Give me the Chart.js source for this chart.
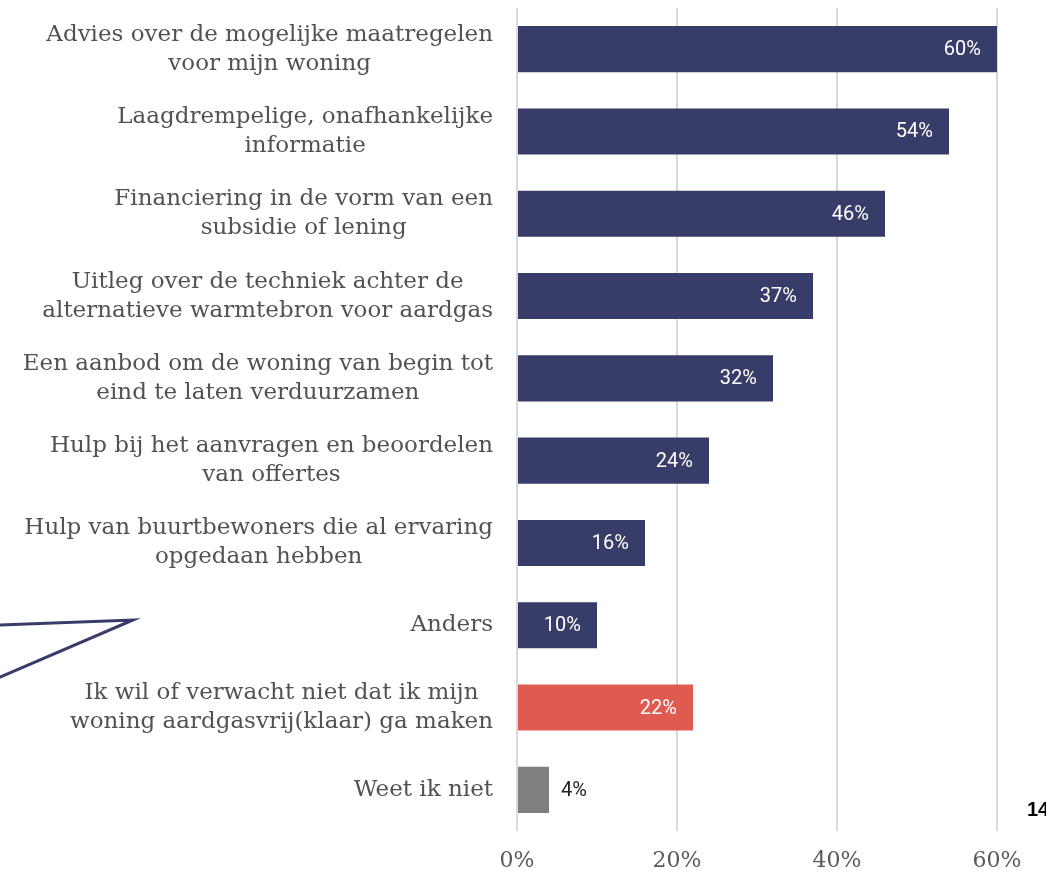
<!DOCTYPE html>
<html>
<head>
<meta charset="utf-8">
<script src="https://cdn.jsdelivr.net/npm/chart.js@4.4.0/dist/chart.umd.min.js"></script>
<style>
html,body{margin:0;padding:0;background:#fff;}
#wrap{width:1046px;height:873px;position:relative;overflow:hidden;}
</style>
</head>
<body>
<div id="wrap"><canvas id="c" width="1046" height="873"></canvas></div>
<script>
const categories = [
  ["Advies over de mogelijke maatregelen", "voor mijn woning"],
  ["Laagdrempelige, onafhankelijke", "informatie"],
  ["Financiering in de vorm van een", "subsidie of lening"],
  ["Uitleg over de techniek achter de", "alternatieve warmtebron voor aardgas"],
  ["Een aanbod om de woning van begin tot", "eind te laten verduurzamen"],
  ["Hulp bij het aanvragen en beoordelen", "van offertes"],
  ["Hulp van buurtbewoners die al ervaring", "opgedaan hebben"],
  ["Anders"],
  ["Ik wil of verwacht niet dat ik mijn", "woning aardgasvrij(klaar) ga maken"],
  ["Weet ik niet"]
];
const values = [60, 54, 46, 37, 32, 24, 16, 10, 22, 4];
const barColors = ["#383c69","#383c69","#383c69","#383c69","#383c69","#383c69","#383c69","#383c69","#e05b4f","#7f7f7f"];
const xTicks = [0, 20, 40, 60];

const SERIF = '"DejaVu Serif", "Liberation Serif", serif';
const LABEL_SIZE = 23;

const labelPlugin = {
  id: 'catLabels',
  afterDraw(chart) {
    const ctx = chart.ctx;
    const y = chart.scales.y;
    const right = chart.chartArea.left - 24;
    const lh = 29;
    ctx.save();
    ctx.font = LABEL_SIZE + 'px ' + SERIF;
    ctx.fillStyle = '#525252';
    ctx.textAlign = 'center';
    ctx.textBaseline = 'middle';
    categories.forEach((lines, i) => {
      const cy = y.getPixelForValue(i);
      let maxW = 0;
      lines.forEach(l => { maxW = Math.max(maxW, ctx.measureText(l).width); });
      const cx = right - maxW / 2;
      const y0 = cy - (lines.length - 1) * lh / 2;
      lines.forEach((l, k) => ctx.fillText(l, cx, y0 + k * lh));
    });
    // decoration
    ctx.strokeStyle = '#383c69';
    ctx.lineWidth = 3;
    ctx.lineJoin = 'miter';
    ctx.beginPath();
    ctx.moveTo(-2, 625);
    ctx.lineTo(133, 620);
    ctx.lineTo(-2, 678);
    ctx.stroke();
    ctx.font = 'bold 20px "Liberation Sans", Arial, sans-serif';
    ctx.fillStyle = '#000';
    ctx.textAlign = 'left';
    ctx.textBaseline = 'alphabetic';
    ctx.fillText('14', 1027, 816);
    ctx.restore();
  }
};

const valuePlugin = {
  id: 'valueLabels',
  afterDatasetsDraw(chart) {
    const ctx = chart.ctx;
    const meta = chart.getDatasetMeta(0);
    ctx.save();
    ctx.font = '20px Roboto, "Noto Sans", sans-serif';
    ctx.textBaseline = 'middle';
    meta.data.forEach((bar, i) => {
      const v = values[i];
      const txt = v + '%';
      if (v >= 8) {
        ctx.fillStyle = '#ffffff';
        ctx.textAlign = 'right';
        ctx.fillText(txt, bar.x - 16, bar.y + 1);
      } else {
        ctx.fillStyle = '#222222';
        ctx.textAlign = 'left';
        ctx.fillText(txt, bar.x + 12, bar.y + 1);
      }
    });
    ctx.restore();
  }
};

new Chart(document.getElementById('c'), {
  type: 'bar',
  data: {
    labels: categories.map(c => c.join(' ')),
    datasets: [{
      data: values,
      backgroundColor: barColors,
      borderWidth: 0,
      barPercentage: 0.56,
      categoryPercentage: 1
    }]
  },
  options: {
    indexAxis: 'y',
    responsive: false,
    animation: false,
    devicePixelRatio: 1,
    layout: { padding: { left: 517, right: 49, top: 8, bottom: 0 } },
    plugins: { legend: { display: false }, tooltip: { enabled: false } },
    scales: {
      y: { display: false },
      x: {
        min: 0, max: 60,
        afterFit(scale) { scale.height = 42; },
        afterBuildTicks(scale) { scale.ticks = xTicks.map(v => ({ value: v })); },
        grid: { color: '#d9d9d9', lineWidth: 2, drawTicks: false },
        border: { display: false },
        ticks: {
          padding: 17,
          color: '#595959',
          font: { family: SERIF, size: 22 },
          callback: v => v + '%'
        }
      }
    }
  },
  plugins: [labelPlugin, valuePlugin]
});
</script>
</body>
</html>
